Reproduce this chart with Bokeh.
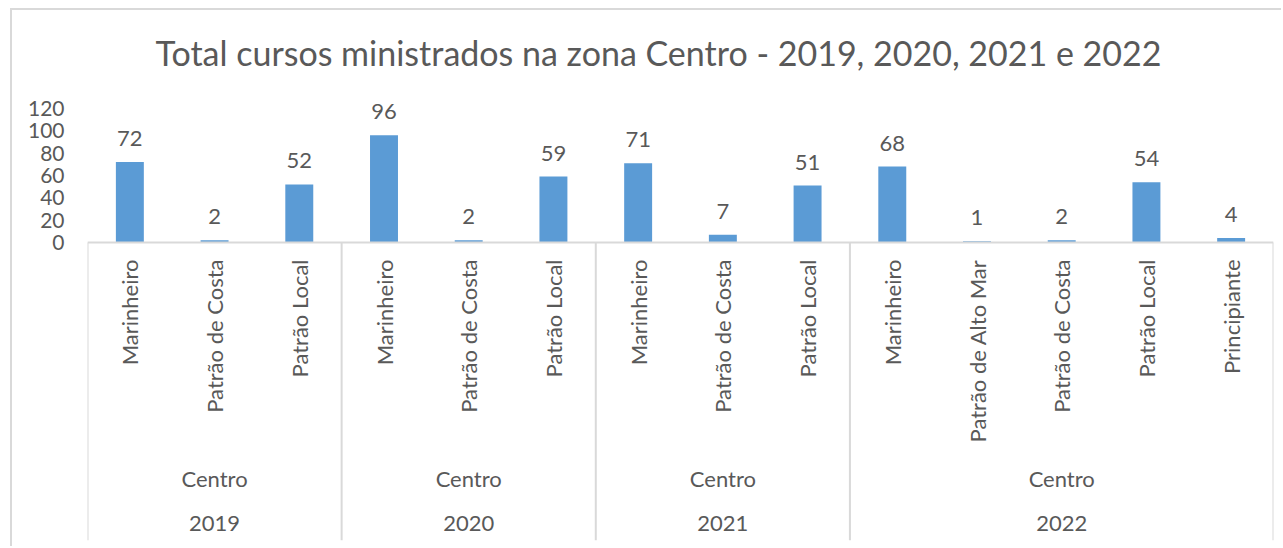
import numpy as np
from bokeh.plotting import figure
from bokeh.models import Range1d, FixedTicker, ColumnDataSource
from bokeh.core.properties import value
from bokeh.embed import file_html
from bokeh.resources import INLINE

# ---- data ----
years = ["2019", "2019", "2019", "2020", "2020", "2020", "2021", "2021", "2021",
         "2022", "2022", "2022", "2022", "2022"]
zones = ["Centro"] * 14
courses = ["Marinheiro", "Patrão de Costa", "Patrão Local",
           "Marinheiro", "Patrão de Costa", "Patrão Local",
           "Marinheiro", "Patrão de Costa", "Patrão Local",
           "Marinheiro", "Patrão de Alto Mar", "Patrão de Costa", "Patrão Local", "Principiante"]
counts = [72, 2, 52, 96, 2, 59, 71, 7, 51, 68, 1, 2, 54, 4]
y_ticks = [0, 20, 40, 60, 80, 100, 120]
title_text = "Total cursos ministrados na zona Centro - 2019, 2020, 2021 e 2022"

FONT = "Lato"
TXT = "#595959"
BAR = "#5B9BD5"
LINE = "#D9D9D9"

n = len(counts)
xs = np.arange(n) + 0.5

# group boundaries / centers
group_names = []
group_start = []
group_end = []
for i, y in enumerate(years):
    if not group_names or group_names[-1] != y:
        group_names.append(y)
        group_start.append(i)
        group_end.append(i + 1)
    else:
        group_end[-1] = i + 1
group_centers = [(a + b) / 2 for a, b in zip(group_start, group_end)]
group_zone = [zones[a] for a in group_start]
bounds = sorted(set(group_start + group_end))

Y0, Y1 = -266.9, 136.1

p = figure(width=1271, height=538, output_backend="svg", toolbar_location=None,
           x_range=Range1d(0, n), y_range=Range1d(Y0, Y1),
           min_border_left=75, min_border_right=10, min_border_top=80, min_border_bottom=8,
           x_axis_location=None)
p.styles = {"margin-left": "10px", "margin-top": "8px",
            "border-left": "2px solid #D9D9D9", "border-top": "2px solid #D9D9D9"}
p.outline_line_color = None
p.xgrid.visible = False
p.ygrid.visible = False
p.background_fill_color = "white"
p.border_fill_color = "white"

p.title.text = title_text
p.title.align = "left"
p.title.text_font = FONT
p.title.text_font_size = "34px"
p.title.text_font_style = "normal"
p.title.text_color = TXT
p.title.offset = 68
p.title.standoff = 36

ax = p.yaxis[0]
ax.ticker = FixedTicker(ticks=y_ticks)
ax.axis_line_color = None
ax.major_tick_line_color = None
ax.minor_tick_line_color = None
ax.major_label_standoff = 17
ax.major_label_text_font = FONT
ax.major_label_text_font_size = "21px"
ax.major_label_text_color = TXT

src = ColumnDataSource(dict(x=xs, v=counts, lab=[str(c) for c in counts], course=courses))
p.vbar(x="x", top="v", bottom=0, width=0.33, source=src, fill_color=BAR, line_color=None)

# axis line and separators
p.segment(x0=[0], y0=[0], x1=[n], y1=[0], line_color=LINE, line_width=2)
p.segment(x0=bounds, y0=[0] * len(bounds), x1=bounds, y1=[Y0] * len(bounds),
          line_color=LINE, line_width=2)

# data labels
p.text(x="x", y="v", text="lab", source=src, text_align="center", text_baseline="bottom",
       y_offset=-16, text_font=value(FONT), text_font_size="22px", text_color=TXT)

# course labels (rotated)
p.text(x="x", y=0, text="course", source=src, angle=np.pi / 2, text_align="right",
       text_baseline="middle", y_offset=17, text_font=value(FONT),
       text_font_size="22px", text_color=TXT)

# zone and year labels
p.text(x=group_centers, y=[0] * len(group_centers), text=group_zone, text_align="center",
       text_baseline="middle", y_offset=236, text_font=value(FONT),
       text_font_size="22px", text_color=TXT)
p.text(x=group_centers, y=[0] * len(group_centers), text=group_names, text_align="center",
       text_baseline="middle", y_offset=281, text_font=value(FONT),
       text_font_size="22px", text_color=TXT)

open("out.html", "w").write(file_html(p, INLINE))
